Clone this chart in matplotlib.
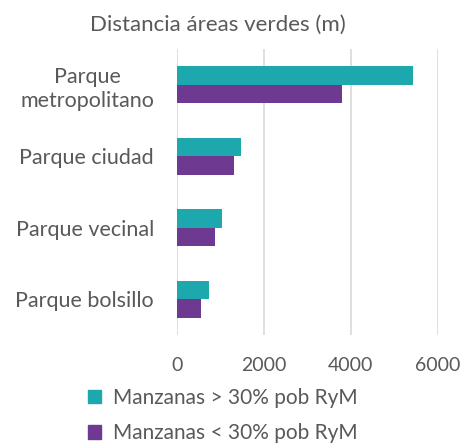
import numpy as np
import matplotlib
matplotlib.use("Agg")
import matplotlib.pyplot as plt
from matplotlib.patches import Patch

matplotlib.rcParams['font.family'] = 'Lato'

categories = ["Parque bolsillo", "Parque vecinal", "Parque ciudad", "Parque\nmetropolitano"]
mayor_30 = [750, 1035, 1470, 5425]
menor_30 = [550, 880, 1320, 3805]
series_names = ["Manzanas > 30% pob RyM", "Manzanas < 30% pob RyM"]
xticks = [0, 2000, 4000, 6000]

teal = "#1CA8AD"
purple = "#6E3A91"
grey = "#595959"

fig = plt.figure(figsize=(4.69, 4.44), dpi=100)
ax = fig.add_axes([0.377, 0.245, 0.556, 0.645])

y = np.arange(len(categories))
h = 0.26
ax.barh(y + h / 2, mayor_30, height=h, color=teal, zorder=3)
ax.barh(y - h / 2, menor_30, height=h, color=purple, zorder=3)

ax.set_xlim(0, 6000)
ax.set_ylim(-0.5, len(categories) - 0.5)
ax.set_xticks(xticks)
ax.set_xticklabels([str(v) for v in xticks])
ax.set_yticks(y)
ax.set_yticklabels(categories, multialignment='center', fontsize=15.5, linespacing=1.25)
ax.grid(axis='x', color='#D9D9D9', linewidth=1.2, zorder=0)
for s in ax.spines.values():
    s.set_visible(False)
ax.tick_params(axis='both', length=0, labelcolor=grey)
ax.tick_params(axis='x', labelsize=14, pad=16)
ax.tick_params(axis='y', pad=16.5)

fig.text(0.465, 0.945, "Distancia áreas verdes (m)", ha='center', va='center',
         fontsize=16, color=grey)

handles = [Patch(color=teal), Patch(color=purple)]
leg = fig.legend(handles, series_names, loc='lower left', bbox_to_anchor=(0.148, -0.041),
                 frameon=False, handlelength=0.6, handleheight=0.6,
                 handletextpad=0.6, labelspacing=0.75, labelcolor=grey,
                 prop={'size': 15})

plt.savefig("out.png", dpi=100)
plt.close()
